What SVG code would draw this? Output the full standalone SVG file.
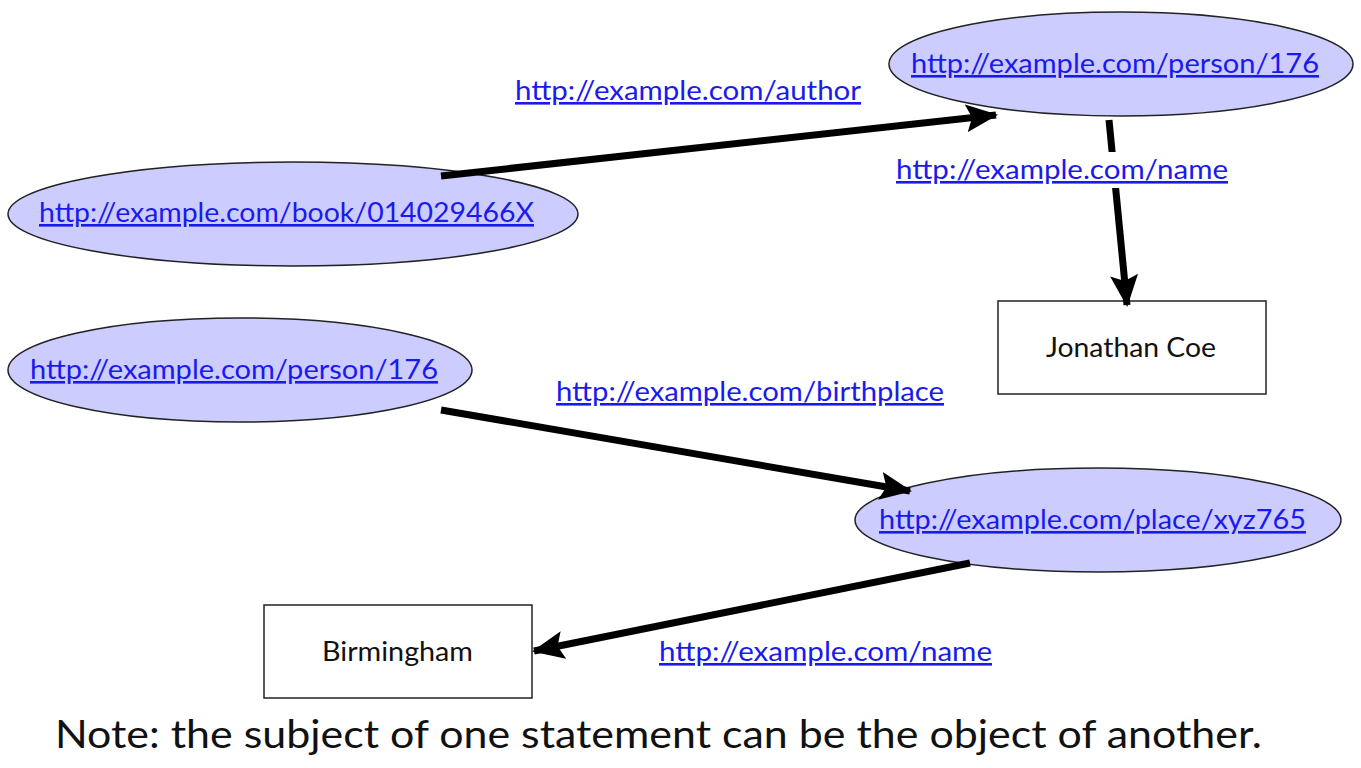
<svg xmlns="http://www.w3.org/2000/svg" width="1361" height="768" viewBox="0 0 1361 768">
<style>
.res{fill:#ccccff;stroke:#222;stroke-width:1.5}
.lit{fill:#fff;stroke:#222;stroke-width:1.5}
.uri{font-family:Lato,"Liberation Sans",sans-serif;font-size:26px;fill:#1a1aee;text-decoration:underline}
.lab{font-family:Lato,"Liberation Sans",sans-serif;font-size:26px;fill:#111}
.note{font-family:Lato,"Liberation Sans",sans-serif;font-size:39px;fill:#111}
.edge{stroke:#000;stroke-width:7;fill:none}
</style>
<defs>
<marker id="arr" markerUnits="userSpaceOnUse" markerWidth="34" markerHeight="28" refX="30" refY="14" orient="auto">
<path d="M0,0 L32,14 L0,28 L6,14 Z" fill="#000"/>
</marker>
</defs>
<rect width="1361" height="768" fill="#fff"/>
<g id="person176-top">
<ellipse class="res" cx="1121" cy="64" rx="232" ry="52"/>
<text class="uri" x="911" y="73" textLength="408" lengthAdjust="spacingAndGlyphs">http://example.com/person/176</text>
</g>
<g id="book">
<ellipse class="res" cx="293" cy="214" rx="285" ry="52"/>
<text class="uri" x="39" y="222" textLength="495" lengthAdjust="spacingAndGlyphs">http://example.com/book/014029466X</text>
</g>
<g id="jonathan-coe">
<rect class="lit" x="998" y="301" width="268" height="93"/>
<text class="lab" x="1046" y="357" textLength="170" lengthAdjust="spacingAndGlyphs">Jonathan Coe</text>
</g>
<g id="person176-bottom">
<ellipse class="res" cx="240" cy="370" rx="232" ry="52"/>
<text class="uri" x="30" y="379" textLength="408" lengthAdjust="spacingAndGlyphs">http://example.com/person/176</text>
</g>
<g id="place">
<ellipse class="res" cx="1098" cy="520" rx="243" ry="52"/>
<text class="uri" x="879" y="529" textLength="427" lengthAdjust="spacingAndGlyphs">http://example.com/place/xyz765</text>
</g>
<g id="birmingham">
<rect class="lit" x="264" y="605" width="268" height="93"/>
<text class="lab" x="322" y="661" textLength="151" lengthAdjust="spacingAndGlyphs">Birmingham</text>
</g>
<g id="connectors">
<line class="edge" x1="441" y1="176" x2="996" y2="115" marker-end="url(#arr)"/>
<line class="edge" x1="1109" y1="120" x2="1127" y2="305" marker-end="url(#arr)"/>
<line class="edge" x1="441" y1="410" x2="910" y2="491" marker-end="url(#arr)"/>
<line class="edge" x1="970" y1="563" x2="534" y2="651" marker-end="url(#arr)"/>
</g>
<g id="edge-labels">
<text class="uri" x="515" y="100" textLength="346" lengthAdjust="spacingAndGlyphs">http://example.com/author</text>
<rect x="893" y="152" width="340" height="36" fill="#fff"/>
<text class="uri" x="896" y="179" textLength="332" lengthAdjust="spacingAndGlyphs">http://example.com/name</text>
<text class="uri" x="556" y="401" textLength="388" lengthAdjust="spacingAndGlyphs">http://example.com/birthplace</text>
<text class="uri" x="659" y="661" textLength="333" lengthAdjust="spacingAndGlyphs">http://example.com/name</text>
</g>
<text class="note" x="55" y="748" textLength="1207" lengthAdjust="spacingAndGlyphs">Note: the subject of one statement can be the object of another.</text>
</svg>
